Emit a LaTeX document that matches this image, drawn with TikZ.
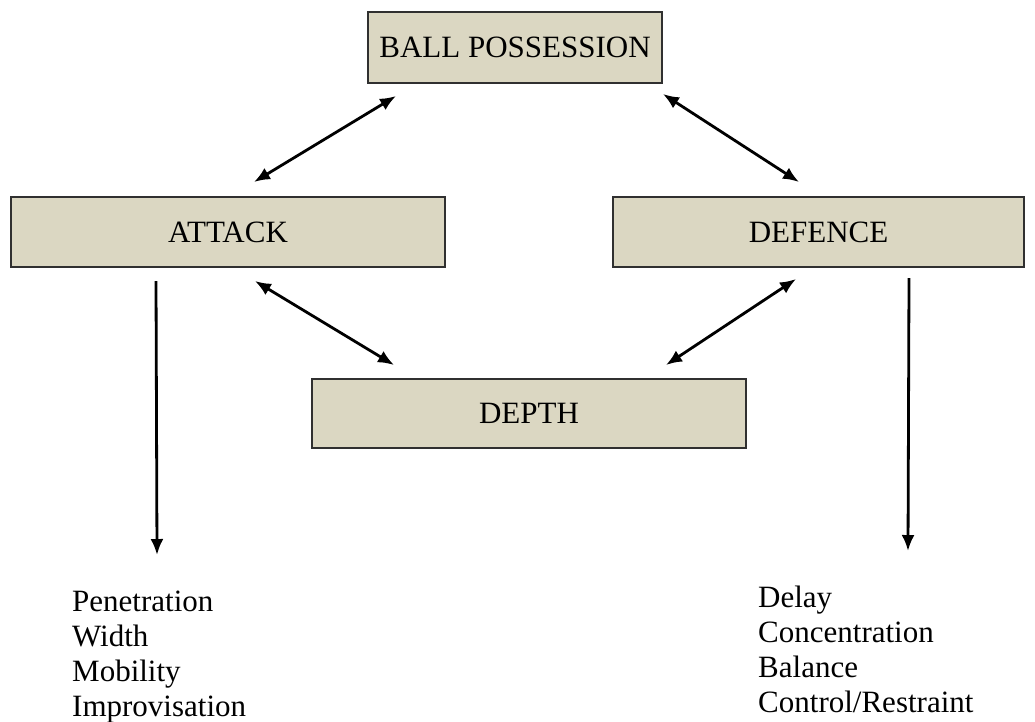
\documentclass[tikz,border=0pt]{standalone}
\usepackage{fontspec}
\setmainfont{Liberation Serif}
\usetikzlibrary{arrows.meta}
\definecolor{boxfill}{HTML}{DBD7C2}
\definecolor{boxline}{HTML}{303030}

\begin{document}
\begin{tikzpicture}[x=1pt,y=-1pt,
    phase/.style={draw=boxline,fill=boxfill,line width=2pt,inner sep=0pt,
        minimum height=70pt,font=\fontsize{31}{35}\selectfont},
    list/.style={anchor=north west,inner sep=0pt,align=left,
        font=\fontsize{31}{35}\selectfont},
    link/.style={line width=2.8pt,{Latex[length=16pt,width=13pt]}-{Latex[length=16pt,width=13pt]}},
    down/.style={line width=2.8pt,-{Latex[length=16pt,width=13pt]}}]
        \useasboundingbox (0,0) rectangle (1035,721);
        % the four boxes
        \node[phase,minimum width=294pt,minimum height=71pt] (bp) at (515,47.5) {BALL POSSESSION};
        \node[phase,minimum width=434pt] (attack) at (228,232) {ATTACK};
        \node[phase,minimum width=411pt] (defence) at (818.5,232) {DEFENCE};
        \node[phase,minimum width=434pt,minimum height=69pt] (depth) at (529,413.5) {DEPTH};
        % the two lists
        \node[list] (atklist) at (72,591) {Penetration\\Width\\Mobility\\Improvisation};
        \node[list] (deflist) at (758,586) {Delay\\Concentration\\Balance\\Control/Restraint};
        % double arrows between the boxes
        \draw[link] ([shift={(29,12)}]bp.south west) -- ([shift={(244,-14)}]attack.north west);
        \draw[link] ([shift={(0,10)}]bp.south east) -- ([shift={(187,-14)}]defence.north west);
        \draw[link] ([shift={(245,13)}]attack.south west) -- ([shift={(83,-13)}]depth.north west);
        \draw[link] ([shift={(184,11)}]defence.south west) -- ([shift={(-81,-13)}]depth.north east);
        % arrows down to the lists
        \draw[down] ([shift={(146,13)}]attack.south west) -- ([shift={(85,-36)}]atklist.north west);
        \draw[down] ([shift={(-116,10)}]defence.south east) -- ([shift={(150,-35)}]deflist.north west);
\end{tikzpicture}
\end{document}
